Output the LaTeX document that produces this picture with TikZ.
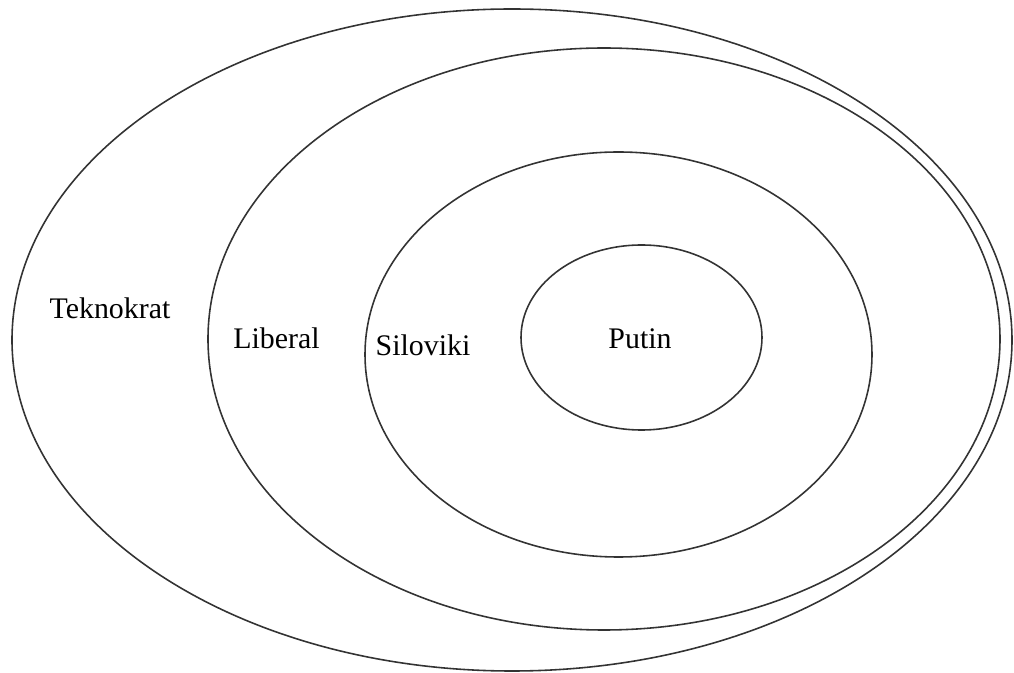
\documentclass[tikz,border=0pt]{standalone}
\usepackage{fontspec}
\setmainfont{Liberation Serif}
\usetikzlibrary{shapes.geometric, positioning}
\tikzset{
  % Circle of power styles
  ring/.style={ellipse, draw=black!80, line width=0.9pt, inner sep=0pt, outer sep=0pt},
  tag/.style={font=\fontsize{17}{20}\selectfont, inner sep=0pt},
}
\begin{document}
\begin{tikzpicture}
    \useasboundingbox (0,0) rectangle (20.28,-13.46);

    % Rings
    \node[ring, minimum width=20.0cm, minimum height=13.24cm] (tekno) at (10.24,-6.80) {};
    \node[ring, minimum width=15.84cm, minimum height=11.64cm] (lib) at (12.08,-6.78) {};
    \node[ring, minimum width=10.14cm, minimum height=8.10cm] (silo) at (12.37,-7.09) {};
    \node[ring, minimum width=4.82cm, minimum height=3.70cm] (putin) at (12.83,-6.75) {};

    % Labels
    \node[tag] (teknolbl) at (2.20,-6.16) {Teknokrat};
    \node[tag] (liblbl) at (5.53,-6.76) {Liberal};
    \node[tag] (silolbl) at (8.46,-6.90) {Siloviki};
    \node[tag] (putinlbl) at (12.80,-6.78) {Putin};
\end{tikzpicture}
\end{document}
